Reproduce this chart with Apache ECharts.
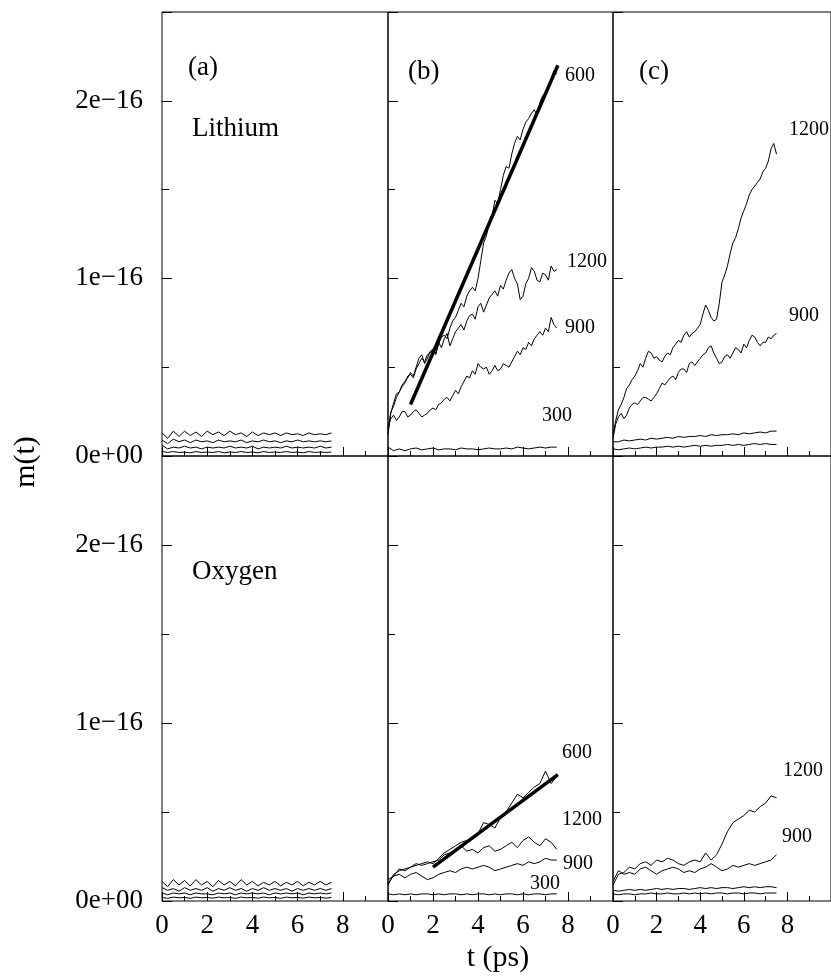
<!DOCTYPE html>
<html>
<head>
<meta charset="utf-8">
<script src="https://cdn.jsdelivr.net/npm/echarts@6/dist/echarts.min.js"></script>
<style>html,body{margin:0;padding:0;background:#fff}#c{width:831px;height:978px}</style>
</head>
<body>
<div id="c"></div>
<script>
// time samples (ps)
const t = [0,0.25,0.5,0.75,1,1.25,1.5,1.75,2,2.25,2.5,2.75,3,3.25,3.5,3.75,4,4.25,4.5,4.75,5,5.25,5.5,5.75,6,6.25,6.5,6.75,7,7.25,7.5];
const tf = [0,0.125,0.25,0.375,0.5,0.625,0.75,0.875,1,1.125,1.25,1.375,1.5,1.625,1.75,1.875,2,2.125,2.25,2.375,2.5,2.625,2.75,2.875,3,3.125,3.25,3.375,3.5,3.625,3.75,3.875,4,4.125,4.25,4.375,4.5,4.625,4.75,4.875,5,5.125,5.25,5.375,5.5,5.625,5.75,5.875,6,6.125,6.25,6.375,6.5,6.625,6.75,6.875,7,7.125,7.25,7.375,7.5];
// values in units of 1e-16
// Lithium (a)
const liA1 = [0.13,0.10,0.14,0.11,0.14,0.115,0.135,0.11,0.14,0.12,0.135,0.115,0.14,0.12,0.13,0.11,0.135,0.115,0.13,0.12,0.13,0.115,0.13,0.12,0.125,0.115,0.13,0.12,0.125,0.12,0.13];
const liA2 = [0.09,0.07,0.095,0.08,0.09,0.075,0.09,0.08,0.085,0.075,0.09,0.08,0.085,0.08,0.09,0.075,0.085,0.08,0.09,0.08,0.085,0.075,0.085,0.08,0.09,0.08,0.085,0.08,0.085,0.08,0.085];
const liA3 = [0.06,0.04,0.05,0.045,0.055,0.045,0.05,0.04,0.05,0.045,0.05,0.045,0.055,0.045,0.05,0.045,0.055,0.04,0.05,0.045,0.05,0.045,0.055,0.045,0.05,0.045,0.05,0.045,0.055,0.045,0.05];
const liA4 = [0.025,0.02,0.025,0.02,0.022,0.018,0.025,0.02,0.022,0.02,0.025,0.018,0.022,0.02,0.025,0.02,0.022,0.018,0.025,0.02,0.022,0.02,0.025,0.02,0.022,0.018,0.025,0.02,0.022,0.02,0.022];
// Lithium (b)  (fine time grid tf)
const liB600 = [0.12,0.24,0.30,0.35,0.36,0.40,0.42,0.44,0.47,0.45,0.50,0.55,0.57,0.52,0.55,0.59,0.60,0.58,0.63,0.67,0.68,0.66,0.72,0.76,0.78,0.82,0.86,0.84,0.90,0.93,0.95,0.93,1.00,1.10,1.20,1.24,1.32,1.35,1.44,1.42,1.50,1.58,1.63,1.62,1.70,1.76,1.80,1.78,1.84,1.88,1.90,1.93,1.95,1.92,1.99,2.03,2.04,2.08,2.12,2.17,2.15];
const liB1200 = [0.14,0.25,0.28,0.33,0.36,0.39,0.41,0.45,0.46,0.44,0.49,0.52,0.55,0.53,0.57,0.58,0.60,0.57,0.64,0.61,0.66,0.69,0.62,0.66,0.70,0.72,0.74,0.71,0.76,0.79,0.80,0.77,0.84,0.86,0.81,0.85,0.89,0.91,0.93,0.90,0.96,0.94,0.99,1.03,1.05,1.00,0.97,0.88,0.90,0.97,1.00,1.06,1.04,0.99,0.98,1.03,1.02,0.99,1.07,1.04,1.05];
const liB900 = [0.16,0.21,0.23,0.20,0.22,0.25,0.25,0.22,0.23,0.25,0.26,0.24,0.22,0.23,0.24,0.26,0.27,0.26,0.29,0.30,0.32,0.33,0.31,0.34,0.37,0.35,0.39,0.42,0.45,0.44,0.48,0.46,0.52,0.50,0.49,0.50,0.46,0.48,0.51,0.48,0.49,0.52,0.51,0.50,0.53,0.56,0.59,0.57,0.61,0.60,0.64,0.62,0.66,0.68,0.70,0.68,0.72,0.70,0.78,0.74,0.72];
const liB300 = [0.05,0.03,0.04,0.03,0.04,0.045,0.035,0.04,0.045,0.035,0.04,0.04,0.035,0.045,0.04,0.04,0.035,0.04,0.045,0.04,0.04,0.045,0.04,0.05,0.045,0.04,0.045,0.05,0.045,0.05,0.05];
const liFitT = [1.0, 7.55];
const liFitV = [0.29, 2.20];
// Lithium (c)  (fine time grid tf for the two upper curves)
const liC1200 = [0.12,0.20,0.26,0.29,0.33,0.38,0.40,0.43,0.45,0.48,0.52,0.50,0.55,0.59,0.58,0.55,0.56,0.54,0.53,0.56,0.58,0.57,0.61,0.63,0.65,0.64,0.68,0.70,0.67,0.69,0.70,0.72,0.74,0.80,0.85,0.82,0.78,0.76,0.77,0.86,0.98,1.02,1.07,1.14,1.20,1.23,1.28,1.34,1.38,1.42,1.47,1.50,1.52,1.54,1.56,1.60,1.62,1.66,1.73,1.76,1.70];
const liC900 = [0.10,0.18,0.22,0.24,0.21,0.23,0.27,0.29,0.30,0.29,0.31,0.33,0.33,0.32,0.31,0.33,0.35,0.38,0.41,0.40,0.42,0.44,0.45,0.43,0.47,0.49,0.49,0.47,0.52,0.53,0.51,0.53,0.55,0.57,0.58,0.61,0.62,0.58,0.55,0.52,0.53,0.56,0.57,0.55,0.58,0.61,0.60,0.58,0.63,0.61,0.65,0.68,0.67,0.64,0.62,0.64,0.64,0.67,0.66,0.68,0.69];
const liCLowA = [0.08,0.08,0.09,0.085,0.09,0.095,0.09,0.10,0.095,0.10,0.105,0.10,0.11,0.105,0.11,0.11,0.115,0.11,0.12,0.115,0.12,0.12,0.125,0.12,0.13,0.125,0.13,0.135,0.13,0.14,0.14];
const liCLowB = [0.04,0.035,0.04,0.045,0.04,0.045,0.05,0.045,0.05,0.05,0.055,0.05,0.055,0.05,0.055,0.06,0.055,0.06,0.055,0.06,0.06,0.065,0.06,0.065,0.06,0.065,0.07,0.065,0.07,0.065,0.065];
// Oxygen (a)
const oxA1 = [0.11,0.08,0.12,0.09,0.115,0.085,0.12,0.09,0.11,0.08,0.115,0.09,0.11,0.085,0.12,0.09,0.11,0.085,0.105,0.09,0.11,0.085,0.105,0.09,0.11,0.085,0.105,0.09,0.11,0.09,0.105];
const oxA2 = [0.075,0.06,0.07,0.055,0.075,0.06,0.07,0.06,0.075,0.055,0.07,0.06,0.075,0.06,0.07,0.055,0.07,0.06,0.075,0.06,0.07,0.06,0.07,0.055,0.07,0.06,0.07,0.06,0.07,0.06,0.07];
const oxA3 = [0.045,0.035,0.045,0.04,0.045,0.035,0.045,0.04,0.04,0.035,0.045,0.04,0.045,0.035,0.045,0.04,0.045,0.04,0.045,0.035,0.045,0.04,0.045,0.04,0.045,0.035,0.045,0.04,0.045,0.04,0.045];
const oxA4 = [0.02,0.015,0.022,0.018,0.02,0.015,0.022,0.018,0.02,0.016,0.022,0.018,0.02,0.015,0.022,0.018,0.02,0.016,0.022,0.018,0.02,0.015,0.022,0.018,0.02,0.016,0.022,0.018,0.02,0.016,0.02];
// Oxygen (b)
const oxB600 = [0.09,0.15,0.17,0.18,0.19,0.20,0.21,0.22,0.21,0.24,0.27,0.29,0.31,0.33,0.34,0.35,0.38,0.44,0.43,0.41,0.47,0.50,0.55,0.60,0.58,0.61,0.64,0.66,0.73,0.66,0.70];
const oxB1200 = [0.10,0.14,0.18,0.17,0.19,0.21,0.20,0.21,0.22,0.23,0.26,0.27,0.29,0.31,0.28,0.29,0.27,0.30,0.31,0.28,0.29,0.31,0.33,0.30,0.34,0.36,0.33,0.31,0.35,0.33,0.29];
const oxB900 = [0.12,0.14,0.15,0.13,0.15,0.16,0.14,0.12,0.13,0.15,0.16,0.17,0.16,0.18,0.19,0.18,0.19,0.20,0.19,0.17,0.18,0.19,0.20,0.21,0.20,0.22,0.21,0.22,0.24,0.23,0.23];
const oxB300 = [0.04,0.035,0.04,0.035,0.04,0.035,0.04,0.04,0.035,0.04,0.035,0.04,0.04,0.035,0.04,0.035,0.04,0.04,0.035,0.04,0.035,0.04,0.04,0.035,0.04,0.035,0.04,0.04,0.035,0.04,0.04];
const oxFitT = [2.0, 7.55];
const oxFitV = [0.19, 0.71];
// Oxygen (c)
const oxC1200 = [0.09,0.15,0.16,0.19,0.18,0.21,0.22,0.20,0.23,0.22,0.24,0.23,0.21,0.20,0.22,0.23,0.22,0.27,0.23,0.26,0.32,0.39,0.44,0.46,0.48,0.51,0.50,0.53,0.55,0.59,0.58];
const oxC900 = [0.11,0.17,0.15,0.16,0.15,0.18,0.19,0.17,0.15,0.17,0.18,0.19,0.18,0.16,0.17,0.16,0.18,0.19,0.21,0.19,0.17,0.18,0.20,0.19,0.20,0.21,0.20,0.21,0.22,0.23,0.26];
const oxCLowA = [0.06,0.055,0.06,0.065,0.06,0.065,0.06,0.065,0.07,0.065,0.07,0.065,0.07,0.07,0.065,0.07,0.075,0.07,0.075,0.07,0.075,0.075,0.07,0.075,0.08,0.075,0.08,0.075,0.08,0.08,0.075];
const oxCLowB = [0.04,0.035,0.04,0.04,0.035,0.04,0.04,0.045,0.04,0.04,0.045,0.04,0.04,0.045,0.04,0.045,0.04,0.045,0.04,0.045,0.045,0.04,0.045,0.045,0.04,0.045,0.045,0.04,0.045,0.045,0.045];

const xTicks = [0,2,4,6,8];
const yTickLabels = {0:'0e+00', 1:'1e\u221216', 2:'2e\u221216'};

const chart = echarts.init(document.getElementById('c'), null, {renderer:'canvas'});
const SERIF = "'Liberation Serif','Times New Roman',serif";
const colL = [162, 388, 613];
const colW = [226, 225, 226];
const rowT = [12, 456];
const rowH = [444, 445];

const grids = [], xAxes = [], yAxes = [];
for (let r = 0; r < 2; r++) {
  for (let c = 0; c < 3; c++) {
    grids.push({left: colL[c], top: rowT[r], width: colW[c], height: rowH[r], show: true, borderColor: '#000', borderWidth: 1, backgroundColor: 'transparent', containLabel: false});
    xAxes.push({
      type: 'value', gridIndex: r*3+c, min: 0, max: 10, interval: 2,
      axisLine: {show: false},
      axisTick: {show: true, inside: true, length: 9, lineStyle: {color: '#000', width: 1}},
      minorTick: {show: true, splitNumber: 2, length: 5, lineStyle: {color: '#000', width: 1}},
      splitLine: {show: false}, minorSplitLine: {show: false},
      axisLabel: {show: r === 1, showMaxLabel: false, margin: 11, color: '#000', fontSize: 27, fontFamily: SERIF,
        formatter: v => xTicks.indexOf(v) >= 0 ? String(v) : ''}
    });
    yAxes.push({
      type: 'value', gridIndex: r*3+c, min: 0, max: 2.5, interval: 1,
      axisLine: {show: false},
      axisTick: {show: true, inside: true, length: 10, lineStyle: {color: '#000', width: 1}},
      minorTick: {show: true, splitNumber: 2, length: 7, lineStyle: {color: '#000', width: 1}},
      splitLine: {show: false}, minorSplitLine: {show: false},
      axisLabel: {show: c === 0, margin: 19, color: '#000', fontSize: 27, fontFamily: SERIF,
        formatter: v => (yTickLabels[v] !== undefined ? yTickLabels[v] : '')}
    });
  }
}

function pts(arr) { return t.map((x, i) => [x, arr[i]]); }
function ptsF(arr) { return tf.map((x, i) => [x, arr[i]]); }
function fit(tt, vv) { return tt.map((x, i) => [x, vv[i]]); }
function line(idx, data, w) {
  return {type: 'line', xAxisIndex: idx, yAxisIndex: idx, data: data, showSymbol: false, symbol: 'none',
    lineStyle: {color: '#000', width: w || 1}, silent: true, animation: false, z: w ? 3 : 2};
}
const series = [
  line(0, pts(liA1)), line(0, pts(liA2)), line(0, pts(liA3)), line(0, pts(liA4)),
  line(1, ptsF(liB600)), line(1, ptsF(liB1200)), line(1, ptsF(liB900)), line(1, pts(liB300)), line(1, fit(liFitT, liFitV), 3.5),
  line(2, ptsF(liC1200)), line(2, ptsF(liC900)), line(2, pts(liCLowA)), line(2, pts(liCLowB)),
  line(3, pts(oxA1)), line(3, pts(oxA2)), line(3, pts(oxA3)), line(3, pts(oxA4)),
  line(4, pts(oxB600)), line(4, pts(oxB1200)), line(4, pts(oxB900)), line(4, pts(oxB300)), line(4, fit(oxFitT, oxFitV), 3.5),
  line(5, pts(oxC1200)), line(5, pts(oxC900)), line(5, pts(oxCLowA)), line(5, pts(oxCLowB))
];

function txt(s, x, y, size, align, rot) {
  return {type: 'text', x: x, y: y, rotation: rot || 0, silent: true, z: 10,
    style: {text: s, fill: '#000', fontSize: size, fontFamily: SERIF, align: align || 'left', verticalAlign: 'middle'}};
}
const graphics = [
  txt('(a)', 188, 68, 27), txt('Lithium', 192, 129, 27),
  txt('(b)', 408, 72, 27), txt('(c)', 639, 72, 27),
  txt('600', 565, 76, 20), txt('1200', 789, 130, 20),
  txt('1200', 567, 262, 20), txt('900', 565, 328, 20), txt('300', 542, 416, 20),
  txt('900', 789, 316, 20),
  txt('Oxygen', 192, 572, 27),
  txt('600', 562, 753, 20), txt('1200', 562, 820, 20), txt('900', 563, 864, 20), txt('300', 530, 884, 20),
  txt('1200', 783, 771, 20), txt('900', 782, 837, 20),
  txt('m(t)', 26, 462, 30, 'center', Math.PI/2),
  txt('t (ps)', 498, 958, 30, 'center')
];

chart.setOption({
  animation: false,
  backgroundColor: '#fff',
  grid: grids, xAxis: xAxes, yAxis: yAxes, series: series,
  graphic: graphics
});
</script>
</body>
</html>
